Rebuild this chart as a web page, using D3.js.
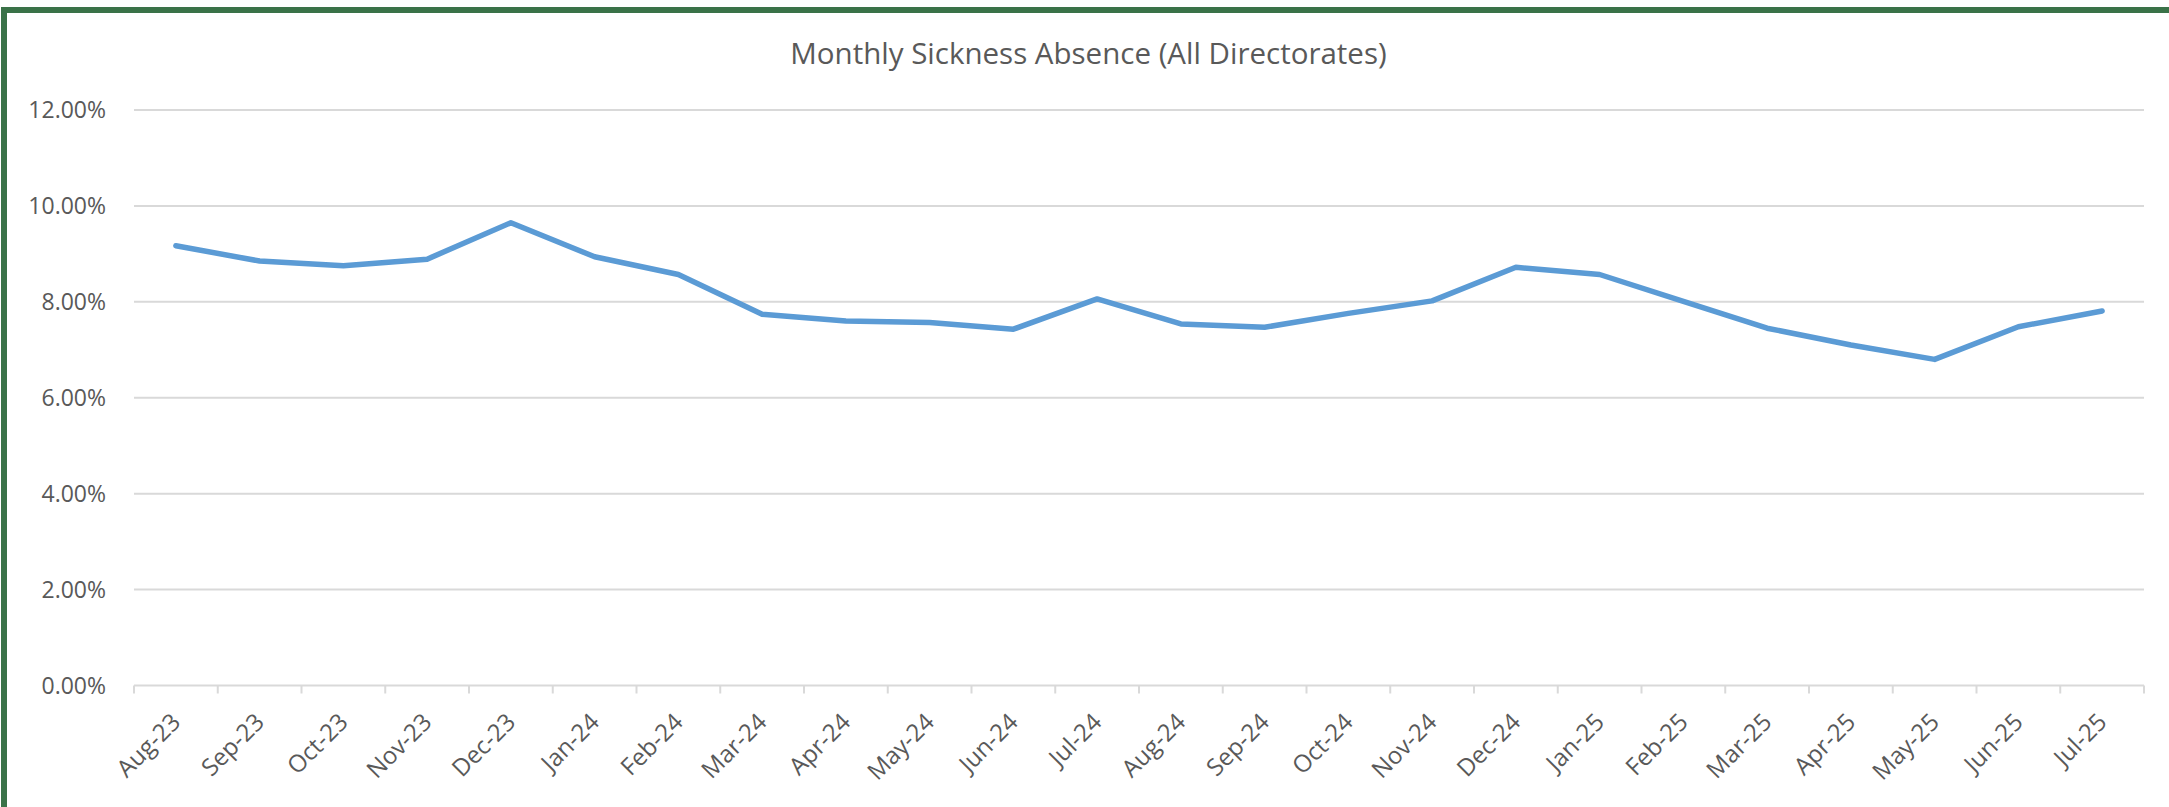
<!DOCTYPE html>
<html>
<head>
<meta charset="utf-8">
<script src="https://cdn.jsdelivr.net/npm/d3@7"></script>
<style>
  html, body { margin: 0; padding: 0; background: #ffffff; }
  svg { display: block; }
  text { font-family: "Open Sans", "Noto Sans", sans-serif; fill: #595959; }
</style>
</head>
<body>
<svg id="chart" width="2169" height="807"></svg>
<script>
// Monthly sickness absence rate, all directorates (percent)
const months = ["Aug-23","Sep-23","Oct-23","Nov-23","Dec-23","Jan-24","Feb-24","Mar-24",
                "Apr-24","May-24","Jun-24","Jul-24","Aug-24","Sep-24","Oct-24","Nov-24",
                "Dec-24","Jan-25","Feb-25","Mar-25","Apr-25","May-25","Jun-25","Jul-25"];
const absenceRate = [9.17, 8.85, 8.75, 8.89, 9.65, 8.94, 8.57, 7.74,
                     7.60, 7.57, 7.43, 8.06, 7.54, 7.47, 7.76, 8.02,
                     8.72, 8.57, 8.01, 7.45, 7.10, 6.80, 7.48, 7.81];
const yTicks = [0, 2, 4, 6, 8, 10, 12];
const chartTitle = "Monthly Sickness Absence (All Directorates)";

const svg = d3.select("#chart");
const W = 2169, H = 807;

// outer frame
svg.append("rect")
  .attr("x", 4).attr("y", 10)
  .attr("width", W + 20).attr("height", H + 20)
  .attr("fill", "#ffffff")
  .attr("stroke", "#3a7248")
  .attr("stroke-width", 6);

const plot = { left: 134, right: 2144, top: 110, bottom: 685.5 };

const x = d3.scaleBand()
  .domain(months)
  .range([plot.left, plot.right])
  .padding(0);

const y = d3.scaleLinear()
  .domain([0, 12])
  .range([plot.bottom, plot.top]);

// horizontal gridlines
svg.append("g")
  .selectAll("line")
  .data(yTicks.filter(d => d > 0))
  .join("line")
  .attr("x1", plot.left).attr("x2", plot.right)
  .attr("y1", d => y(d)).attr("y2", d => y(d))
  .attr("stroke", "#d9d9d9")
  .attr("stroke-width", 2);

// y-axis labels
svg.append("g")
  .selectAll("text")
  .data(yTicks)
  .join("text")
  .attr("x", 106)
  .attr("y", d => y(d))
  .attr("dy", "0.35em")
  .attr("text-anchor", "end")
  .style("font-size", "23px")
  .text(d => d3.format(".2f")(d) + "%");

// category axis: baseline with ticks between categories
const boundaries = months.map(m => x(m)).concat([plot.right]);
const xAxis = svg.append("g");
xAxis.append("line")
  .attr("x1", plot.left).attr("x2", plot.right)
  .attr("y1", y(0)).attr("y2", y(0))
  .attr("stroke", "#d9d9d9").attr("stroke-width", 2);
xAxis.selectAll("line.tick")
  .data(boundaries)
  .join("line")
  .attr("class", "tick")
  .attr("x1", d => d).attr("x2", d => d)
  .attr("y1", y(0)).attr("y2", y(0) + 8)
  .attr("stroke", "#d9d9d9").attr("stroke-width", 2);

xAxis.selectAll("text")
  .data(months)
  .join("text")
  .attr("text-anchor", "end")
  .attr("transform", d => `translate(${x(d) + x.bandwidth() / 2 + 6},${y(0) + 38}) rotate(-45)`)
  .style("font-size", "24px")
  .text(d => d);

// series line
const line = d3.line()
  .x((d, i) => x(months[i]) + x.bandwidth() / 2)
  .y(d => y(d));

svg.append("path")
  .datum(absenceRate)
  .attr("d", line)
  .attr("fill", "none")
  .attr("stroke", "#5b9bd5")
  .attr("stroke-width", 5.5)
  .attr("stroke-linejoin", "round")
  .attr("stroke-linecap", "round");

// title
svg.append("text")
  .attr("x", (790 + 1387) / 2)
  .attr("y", 64)
  .attr("text-anchor", "middle")
  .style("font-size", "29.5px")
  .text(chartTitle);
</script>
</body>
</html>
